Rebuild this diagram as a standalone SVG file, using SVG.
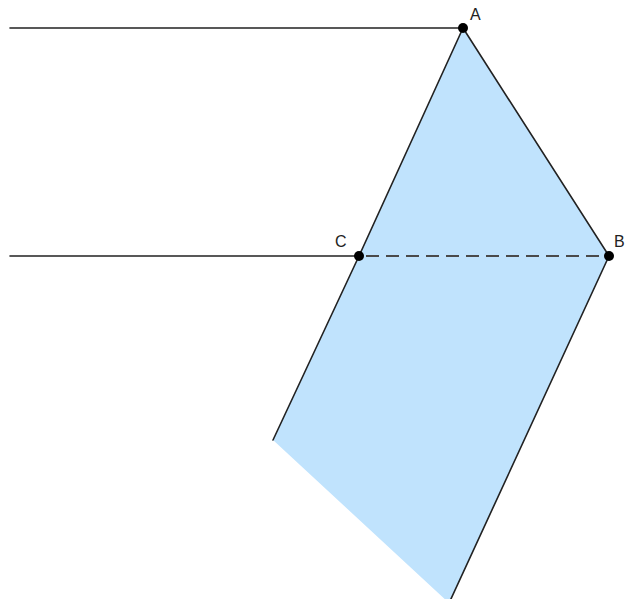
<svg xmlns="http://www.w3.org/2000/svg" width="625" height="599" viewBox="0 0 625 599">
<style>
.edge{stroke:#222;stroke-width:1.6;fill:none;stroke-linecap:round}
.dash{stroke:#4a4a4a;stroke-width:1.8;fill:none;stroke-dasharray:13 7}
.pt{fill:#000}
.lbl{font-family:"Liberation Sans",Arial,sans-serif;font-size:16px;fill:#222}
</style>
<rect width="625" height="599" fill="#fff"/>
<g id="face">
<polygon points="463,28 609,256 449,603 273,440 359,256" fill="#c0e3fd"/>
</g>
<g id="connectors">
<line class="edge" x1="10" y1="28" x2="463" y2="28"/>
<line class="edge" x1="10" y1="256" x2="359" y2="256"/>
<line class="edge" x1="463" y1="28" x2="359" y2="256"/>
<line class="edge" x1="359" y1="256" x2="273" y2="440"/>
<line class="edge" x1="463" y1="28" x2="609" y2="256"/>
<line class="edge" x1="609" y1="256" x2="450" y2="601"/>
<line class="dash" x1="366" y1="256" x2="603" y2="256"/>
</g>
<g id="A"><circle class="pt" cx="463" cy="28" r="5"/><text class="lbl" x="470" y="20">A</text></g>
<g id="B"><circle class="pt" cx="609" cy="256" r="5"/><text class="lbl" x="614" y="247">B</text></g>
<g id="C"><circle class="pt" cx="359" cy="256" r="5"/><text class="lbl" x="335" y="247">C</text></g>
</svg>
